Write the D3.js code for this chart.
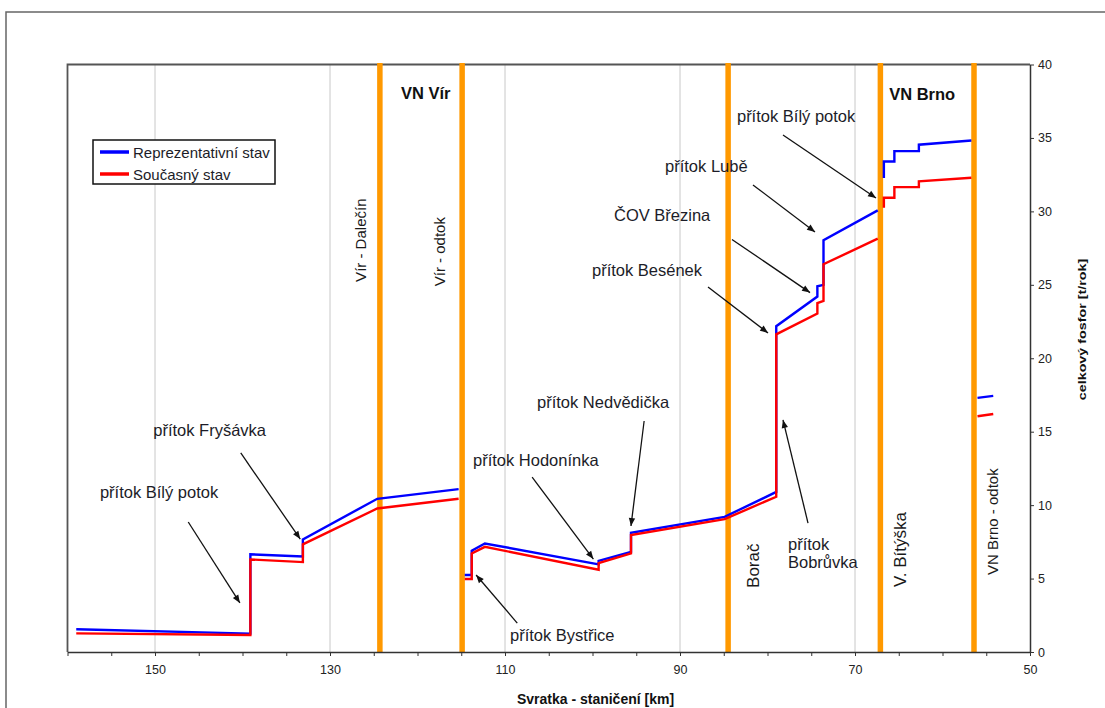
<!DOCTYPE html>
<html>
<head>
<meta charset="utf-8">
<script src="https://cdn.jsdelivr.net/npm/d3@7"></script>
<style>
  body { margin: 0; background: #fff; }
  svg { display: block; font-family: "Liberation Sans", Arial, sans-serif; }
</style>
</head>
<body>
<script>
// chart size
var w = 1105;
var h = 708;

// stationing of the river profile points [km], null = break in the line
const stationKm = [159.0, 139.1, 139.1, 133.1, 133.1, 124.6, 115.3, null,
                   114.6, 113.8, 113.8, 112.3, 99.3, 99.3, 95.6, 95.6, 84.9, 79.0, 79.0,
                   74.3, 74.3, 73.6, 73.6, 67.4, null,
                   66.7, 66.7, 65.5, 65.5, 62.7, 62.7, 56.7, null,
                   56.0, 54.2];

// celkový fosfor [t/rok]
const reprStav = [1.55, 1.25, 6.65, 6.50, 7.67, 10.43, 11.09, null,
                  5.24, 5.24, 6.89, 7.39, 5.97, 6.21, 6.82, 8.12, 9.20, 10.90, 22.18,
                  24.20, 24.90, 25.00, 28.03, 30.07, null,
                  32.27, 33.40, 33.40, 34.10, 34.10, 34.54, 34.83, null,
                  17.30, 17.44];
const soucStav = [1.27, 1.16, 6.30, 6.12, 7.33, 9.77, 10.43, null,
                  4.97, 4.97, 6.71, 7.16, 5.60, 6.05, 6.71, 7.96, 9.05, 10.57, 21.63,
                  23.04, 23.76, 23.90, 26.40, 28.14, null,
                  30.25, 30.93, 30.93, 31.65, 31.65, 32.04, 32.29, null,
                  16.05, 16.20];

const seriesNames = ["Reprezentativní stav", "Současný stav"];

// axis ticks
const xTicks = [150, 130, 110, 90, 70, 50];
const yTicks = [0, 5, 10, 15, 20, 25, 30, 35, 40];

// profiles (orange lines)
const profileNames = ["Vír - Dalečín", "Vír - odtok", "Borač", "V. Bítýška", "VN Brno - odtok"];
const profileKm = [124.3, 114.9, 84.5, 67.1, 56.4];

// scales
const xScale = d3.scaleLinear().domain([160, 50]).range([67.5, 1030]);
const yScale = d3.scaleLinear().domain([0, 40]).range([652, 64.5]);

const svg = d3.select("body").append("svg")
    .attr("width", w)
    .attr("height", h);

// arrow head
svg.append("defs").append("marker")
    .attr("id", "ah")
    .attr("viewBox", "0 0 10 10")
    .attr("refX", 10).attr("refY", 5)
    .attr("markerWidth", 9).attr("markerHeight", 8)
    .attr("markerUnits", "userSpaceOnUse")
    .attr("orient", "auto")
  .append("path")
    .attr("d", "M0,1L10,5L0,9Z")
    .attr("fill", "#111");

// outer frame
svg.append("path")
    .attr("d", "M6," + h + "V12H" + w)
    .attr("fill", "none")
    .attr("stroke", "#666")
    .attr("stroke-width", 1.5);

const [x0, x1] = xScale.range();
const [y0, y1] = yScale.range();

// vertical gridlines
svg.append("g").selectAll("line")
    .data(xTicks.filter(d => d !== 50))
    .enter().append("line")
    .attr("x1", d => xScale(d)).attr("x2", d => xScale(d))
    .attr("y1", y1).attr("y2", y0)
    .attr("stroke", "#c8c8c8")
    .attr("stroke-width", 1);

// plot border top + left
svg.append("path")
    .attr("d", `M${x0},${y0}V${y1}H${x1}`)
    .attr("fill", "none")
    .attr("stroke", "#555")
    .attr("stroke-width", 1.8);

// orange profile lines
svg.append("g").selectAll("line")
    .data(profileKm)
    .enter().append("line")
    .attr("x1", d => xScale(d)).attr("x2", d => xScale(d))
    .attr("y1", y1 - 1.5).attr("y2", y0)
    .attr("stroke", "#ff9900")
    .attr("stroke-width", 5.5);

// the two series
const line = d3.line()
    .defined(d => d[1] !== null)
    .x(d => xScale(d[0]))
    .y(d => yScale(d[1]));

const series = [reprStav, soucStav].map(vals => stationKm.map((k, i) => [k, vals[i]]));
const colors = d3.scaleOrdinal().domain(seriesNames).range(["#0000ff", "#ff0000"]);

svg.append("g").selectAll("path")
    .data(series)
    .enter().append("path")
    .attr("d", line)
    .attr("fill", "none")
    .attr("stroke", (d, i) => colors(seriesNames[i]))
    .attr("stroke-width", 2.4)
    .attr("stroke-linejoin", "miter");

// x axis (reversed stationing)
const xAxis = d3.axisBottom(xScale)
    .tickValues(d3.range(50, 161, 5))
    .tickSize(4)
    .tickSizeOuter(0)
    .tickPadding(9)
    .tickFormat(d => xTicks.includes(d) ? d : "");

const gx = svg.append("g")
    .attr("transform", `translate(0,${y0})`)
    .call(xAxis);

// y axis on the right
const yAxis = d3.axisRight(yScale)
    .tickValues(yTicks)
    .tickSize(4)
    .tickSizeOuter(0)
    .tickPadding(4);

const gy = svg.append("g")
    .attr("transform", `translate(${x1},0)`)
    .call(yAxis);

[gx, gy].forEach(g => {
  g.select(".domain").attr("stroke", "#333").attr("stroke-width", 1.5);
  g.selectAll(".tick line").attr("stroke", "#333");
  g.selectAll(".tick text")
    .attr("fill", "#222")
    .style("font-size", "12.5px")
    .style("font-family", "'Liberation Sans', Arial, sans-serif");
});

// axis titles
svg.append("text")
    .attr("x", 595.5).attr("y", 704)
    .attr("text-anchor", "middle")
    .attr("font-weight", "bold")
    .attr("font-size", 14)
    .attr("fill", "#111")
    .text("Svratka - staničení [km]");

svg.append("text")
    .attr("transform", "translate(1086,329.5) rotate(-90) scale(1.3,1)")
    .attr("text-anchor", "middle")
    .attr("font-weight", "bold")
    .attr("font-size", 11)
    .attr("fill", "#111")
    .text("celkový fosfor [t/rok]");

// vertical profile labels
const profileLabelVal = [25.2, 24.9, 4.36, 4.42, 5.24];
const profileLabelDx = [-14, -17, 31, 26, 24];
const profileLabelSize = [15, 15, 17, 17, 15];

svg.append("g").selectAll("text")
    .data(profileNames)
    .enter().append("text")
    .attr("transform", (d, i) =>
      `translate(${xScale(profileKm[i]) + profileLabelDx[i]},${yScale(profileLabelVal[i])}) rotate(-90)`)
    .attr("font-size", (d, i) => profileLabelSize[i])
    .attr("fill", "#1a1a1a")
    .text(d => d);

// reservoir names
const reservoirs = [
  { name: "VN Vír", km: 121.9, val: 37.65 },
  { name: "VN Brno", km: 66.1, val: 37.58 }
];
svg.append("g").selectAll("text")
    .data(reservoirs)
    .enter().append("text")
    .attr("x", d => xScale(d.km))
    .attr("y", d => yScale(d.val))
    .attr("font-size", 16.5)
    .attr("font-weight", "bold")
    .attr("fill", "#111")
    .text(d => d.name);

// tributary annotations with arrows (in km / t per year)
const annotations = [
  { text: ["přítok Bílý potok"], km: 156.3, val: 10.48, from: [146.2, 8.85], to: [140.3, 3.34] },
  { text: ["přítok Fryšávka"], km: 150.2, val: 14.71, from: [140.2, 13.55], to: [133.4, 7.69] },
  { text: ["přítok Hodonínka"], km: 113.66, val: 12.66, from: [106.9, 11.91], to: [99.9, 6.33] },
  { text: ["přítok Nedvědička"], km: 106.34, val: 16.61, from: [94.1, 15.73], to: [95.6, 8.58] },
  { text: ["přítok Bystřice"], km: 109.43, val: 0.75, from: [108.6, 1.97], to: [113.3, 5.24] },
  { text: ["přítok", "Bobrůvka"], km: 77.66, val: 6.94, from: [75.37, 8.78], to: [78.23, 15.8] },
  { text: ["přítok Besének"], km: 100.06, val: 25.6, from: [86.8, 24.85], to: [79.94, 21.72] },
  { text: ["ČOV Březina"], km: 97.54, val: 29.34, from: [84.06, 28.09], to: [75.14, 24.47] },
  { text: ["přítok Lubě"], km: 91.71, val: 32.68, from: [81.66, 31.8], to: [74.57, 28.6] },
  { text: ["přítok Bílý potok"], km: 83.49, val: 36.08, from: [78.23, 35.2], to: [67.6, 30.91] }
];

const ann = svg.append("g").selectAll("g")
    .data(annotations)
    .enter().append("g");

ann.append("line")
    .attr("x1", d => xScale(d.from[0])).attr("y1", d => yScale(d.from[1]))
    .attr("x2", d => xScale(d.to[0])).attr("y2", d => yScale(d.to[1]))
    .attr("stroke", "#111")
    .attr("stroke-width", 1.3)
    .attr("marker-end", "url(#ah)");

ann.append("text")
    .attr("x", d => xScale(d.km))
    .attr("y", d => yScale(d.val))
    .attr("font-size", 16.5)
    .attr("fill", "#1c1c28")
    .selectAll("tspan")
    .data(d => d.text.map(t => ({ t, x: xScale(d.km) })))
    .enter().append("tspan")
    .attr("x", d => d.x)
    .attr("dy", (d, i) => i ? 18.3 : 0)
    .text(d => d.t);

// legend
const legend = svg.append("g").attr("transform", "translate(93,140)");
legend.append("rect")
    .attr("width", 182).attr("height", 44)
    .attr("fill", "#fff")
    .attr("stroke", "#111")
    .attr("stroke-width", 1.5);

const li = legend.selectAll("g.item")
    .data(seriesNames)
    .enter().append("g")
    .attr("transform", (d, i) => `translate(0,${12 + i * 22})`);

li.append("line")
    .attr("x1", 7).attr("x2", 36)
    .attr("stroke", d => colors(d))
    .attr("stroke-width", 3.5);

li.append("text")
    .attr("x", 40).attr("y", 5.5)
    .attr("font-size", 15)
    .attr("fill", "#1c1c28")
    .text(d => d);
</script>
</body>
</html>
